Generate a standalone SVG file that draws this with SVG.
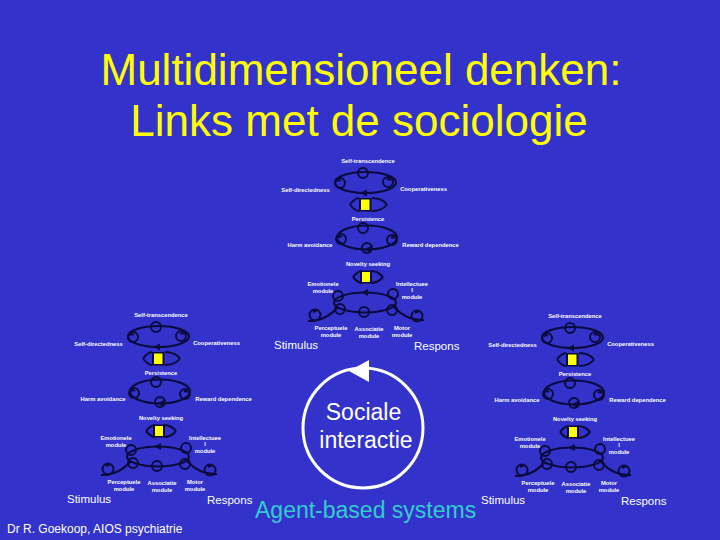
<svg xmlns="http://www.w3.org/2000/svg" xmlns:xlink="http://www.w3.org/1999/xlink" width="720" height="540" viewBox="0 0 720 540">
<style>
.t{font-family:"Liberation Sans",Arial,sans-serif;fill:#fff;font-weight:bold;font-size:5.8px;text-anchor:middle}
.sr{font-family:"Liberation Sans",Arial,sans-serif;fill:#fff;font-size:11.5px}
.ln{fill:none;stroke:#0b0b3e;stroke-width:2.2}
.nd{fill:none;stroke:#0b0b3e;stroke-width:2}
.ah{fill:#0b0b3e}
.title{font-family:"Liberation Sans",Arial,sans-serif;fill:#ffff00;font-size:44px;text-anchor:middle}
</style>
<defs>
<g id="model-shapes">
  <!-- upper ring -->
  <ellipse class="ln" cx="365.5" cy="182.5" rx="30.5" ry="10.5"/>
  <circle class="nd" cx="363" cy="173" r="5"/>
  <circle class="nd" cx="340" cy="183" r="5"/>
  <circle class="nd" cx="388" cy="182" r="5"/>
  <polygon class="ah" points="360,193 367,189.5 367,196.5"/>
  <polygon class="ah" points="338,178 342,181 336,182"/>
  <polygon class="ah" points="389,177 392,181 386,180"/>
  <!-- persistence -->
  <path class="nd" d="M350,204.5 Q355,198 359,198 M350,204.5 Q355,211 359,211 M387,204.5 Q382,198 372,198 M387,204.5 Q382,211 372,211"/>
  <rect x="359" y="198" width="12.5" height="13.5" fill="#0b0b3e"/>
  <rect x="361" y="199.5" width="8.5" height="10.5" fill="#ffff00"/>
  <!-- lower ring -->
  <ellipse class="ln" cx="367" cy="237.5" rx="30" ry="12"/>
  <circle class="nd" cx="363" cy="228" r="5"/>
  <circle class="nd" cx="341" cy="239" r="5"/>
  <circle class="nd" cx="392" cy="240" r="5"/>
  <circle class="nd" cx="367" cy="248" r="5"/>
  <polygon class="ah" points="364,249.5 371,246 371,253"/>
  <polygon class="ah" points="339,234 343,237 337,238"/>
  <polygon class="ah" points="393,235 396,239 390,238"/>
  <!-- novelty seeking -->
  <path class="nd" d="M353,277 Q358,271 362,271 M353,277 Q358,283 362,283 M383,277 Q378,271 371,271 M383,277 Q378,283 371,283"/>
  <rect x="360" y="270.5" width="12" height="13" fill="#0b0b3e"/>
  <rect x="362" y="272" width="8" height="10" fill="#ffff00"/>
  <!-- network -->
  <ellipse class="ln" cx="365" cy="302.5" rx="31" ry="10"/>
  <polygon class="ah" points="361,292.5 368,289 368,296"/>
  <circle class="nd" cx="338" cy="296" r="5"/>
  <circle class="nd" cx="340" cy="309" r="5"/>
  <circle class="nd" cx="393" cy="294" r="5"/>
  <circle class="nd" cx="392" cy="310" r="5"/>
  <circle class="nd" cx="364" cy="312" r="5"/>
  <path class="ln" d="M338,307 Q326,321 308,321"/>
  <circle class="nd" cx="315" cy="315" r="5.5"/>
  <path class="ln" d="M394,307 Q407,321 424,320"/>
  <circle class="nd" cx="417" cy="316" r="5.5"/>
  <polygon class="ah" points="313,309 318,311 313,313"/>
  <polygon class="ah" points="415,310 420,312 415,314"/>
</g>
</defs>
<rect x="0" y="0" width="720" height="540" fill="#3333cc"/>
<g id="title">
  <text class="title" x="361" y="85">Multidimensioneel denken:</text>
  <text class="title" x="359" y="136">Links met de sociologie</text>
</g>
<g id="model-center">
  <use xlink:href="#model-shapes"/>
  <text class="t" x="368" y="163">Self-transcendence</text>
  <text class="t" x="305.5" y="192">Self-directedness</text>
  <text class="t" x="423.5" y="191">Cooperativeness</text>
  <text class="t" x="368" y="221">Persistence</text>
  <text class="t" x="310" y="247">Harm avoidance</text>
  <text class="t" x="430.5" y="247">Reward dependence</text>
  <text class="t" x="368" y="266">Novelty seeking</text>
  <text class="t" x="323" y="286">Emotionele</text>
  <text class="t" x="323" y="292.5">module</text>
  <text class="t" x="412" y="286">Intellectuee</text>
  <text class="t" x="412" y="292">l</text>
  <text class="t" x="412" y="298.5">module</text>
  <text class="t" x="331" y="330">Perceptuele</text>
  <text class="t" x="331" y="336.5">module</text>
  <text class="t" x="369" y="331">Associatie</text>
  <text class="t" x="369" y="337.5">module</text>
  <text class="t" x="402" y="330">Motor</text>
  <text class="t" x="402" y="336.5">module</text>
  <text class="sr" x="274" y="349">Stimulus</text>
  <text class="sr" x="414" y="350">Respons</text>
</g>
<g id="model-left" transform="translate(-207,154)">
  <use xlink:href="#model-shapes"/>
  <text class="t" x="368" y="163">Self-transcendence</text>
  <text class="t" x="305.5" y="192">Self-directedness</text>
  <text class="t" x="423.5" y="191">Cooperativeness</text>
  <text class="t" x="368" y="221">Persistence</text>
  <text class="t" x="310" y="247">Harm avoidance</text>
  <text class="t" x="430.5" y="247">Reward dependence</text>
  <text class="t" x="368" y="266">Novelty seeking</text>
  <text class="t" x="323" y="286">Emotionele</text>
  <text class="t" x="323" y="292.5">module</text>
  <text class="t" x="412" y="286">Intellectuee</text>
  <text class="t" x="412" y="292">l</text>
  <text class="t" x="412" y="298.5">module</text>
  <text class="t" x="331" y="330">Perceptuele</text>
  <text class="t" x="331" y="336.5">module</text>
  <text class="t" x="369" y="331">Associatie</text>
  <text class="t" x="369" y="337.5">module</text>
  <text class="t" x="402" y="330">Motor</text>
  <text class="t" x="402" y="336.5">module</text>
  <text class="sr" x="274" y="349">Stimulus</text>
  <text class="sr" x="414" y="350">Respons</text>
</g>
<g id="model-right" transform="translate(207,155)">
  <use xlink:href="#model-shapes"/>
  <text class="t" x="368" y="163">Self-transcendence</text>
  <text class="t" x="305.5" y="192">Self-directedness</text>
  <text class="t" x="423.5" y="191">Cooperativeness</text>
  <text class="t" x="368" y="221">Persistence</text>
  <text class="t" x="310" y="247">Harm avoidance</text>
  <text class="t" x="430.5" y="247">Reward dependence</text>
  <text class="t" x="368" y="266">Novelty seeking</text>
  <text class="t" x="323" y="286">Emotionele</text>
  <text class="t" x="323" y="292.5">module</text>
  <text class="t" x="412" y="286">Intellectuee</text>
  <text class="t" x="412" y="292">l</text>
  <text class="t" x="412" y="298.5">module</text>
  <text class="t" x="331" y="330">Perceptuele</text>
  <text class="t" x="331" y="336.5">module</text>
  <text class="t" x="369" y="331">Associatie</text>
  <text class="t" x="369" y="337.5">module</text>
  <text class="t" x="402" y="330">Motor</text>
  <text class="t" x="402" y="336.5">module</text>
  <text class="sr" x="274" y="349">Stimulus</text>
  <text class="sr" x="414" y="350">Respons</text>
</g>
<g id="connectors">
  <circle cx="363" cy="428" r="60" fill="none" stroke="#fff" stroke-width="3"/>
  <polygon points="349,371 369,360 369,382" fill="#fff"/>
</g>
<g id="sociale-interactie">
  <text x="363.5" y="420" font-family="Liberation Sans, Arial, sans-serif" font-size="23" fill="#fff" text-anchor="middle">Sociale</text>
  <text x="366" y="448" font-family="Liberation Sans, Arial, sans-serif" font-size="23" fill="#fff" text-anchor="middle">interactie</text>
</g>
<text x="255" y="518" font-family="Liberation Sans, Arial, sans-serif" font-size="23" fill="#33cccc">Agent-based systems</text>
<text x="7" y="533" font-family="Liberation Sans, Arial, sans-serif" font-size="12" fill="#fff">Dr R. Goekoop, AIOS psychiatrie</text>
</svg>
